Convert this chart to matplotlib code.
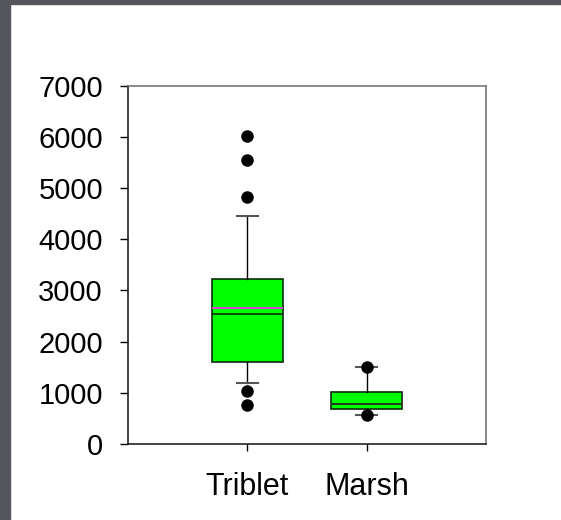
import matplotlib
matplotlib.use("Agg")
import matplotlib.pyplot as plt
import matplotlib.patches as mpatches

plt.rcParams['font.family'] = ['Liberation Sans', 'DejaVu Sans']

# data
groups = ["Triblet", "Marsh"]
q1 = [1602, 684]
q3 = [3223, 1022]
medians = [2540, 776]
means = [2651, 776]
whisker_lo = [1197, 561]
whisker_hi = [4454, 1498]
fliers = [[6023, 5548, 4819, 1041, 756], [1510, 561]]

y_ticks = [0, 1000, 2000, 3000, 4000, 5000, 6000, 7000]

fig = plt.figure(figsize=(5.61, 5.2), dpi=100)
fig.patch.set_facecolor('white')

# dark border on the left and top of the frame
fig.add_artist(mpatches.Rectangle((0, 0), 10 / 561, 1, transform=fig.transFigure,
                                  color='#55555c', zorder=0))
fig.add_artist(mpatches.Rectangle((0, 1 - 4 / 520), 1, 4 / 520, transform=fig.transFigure,
                                  color='#55555c', zorder=0))

ax = fig.add_axes([128 / 561, 1 - 444 / 520, (486 - 128) / 561, (444 - 85.7) / 520])

stats = []
for i, name in enumerate(groups):
    stats.append({
        "label": name,
        "q1": q1[i],
        "q3": q3[i],
        "med": medians[i],
        "mean": means[i],
        "whislo": whisker_lo[i],
        "whishi": whisker_hi[i],
        "fliers": fliers[i],
    })

positions = [1, 2]
ax.bxp(stats, positions=positions, widths=0.6, patch_artist=True,
       showmeans=True, meanline=True,
       boxprops=dict(facecolor='#00ff00', edgecolor='#0a2a0a', linewidth=1.2),
       medianprops=dict(color='#0a3a0a', linewidth=1.3, zorder=4),
       meanprops=dict(color='#e040e0', linestyle='-', linewidth=1.4, zorder=3),
       whiskerprops=dict(color='black', linewidth=1),
       capprops=dict(color='#555555', linewidth=1.5),
       capwidths=0.18,
       flierprops=dict(marker='o', markerfacecolor='black', markeredgecolor='black',
                       markersize=8))

ax.set_xlim(0, 3)
ax.set_ylim(0, 7000)
ax.set_yticks(y_ticks)
ax.set_yticklabels([str(t) for t in y_ticks])
ax.set_xticks(positions)
ax.set_xticklabels(groups)

ax.tick_params(axis='y', direction='out', length=6, width=1, pad=12, labelsize=21)
ax.tick_params(axis='x', direction='out', length=5, width=1, pad=15, labelsize=22)

ax.spines['left'].set_color('#222222')
ax.spines['bottom'].set_color('#222222')
ax.spines['top'].set_color('#777777')
ax.spines['right'].set_color('#777777')
for s in ax.spines.values():
    s.set_linewidth(1.2)

fig.savefig("out.png", dpi=100)
